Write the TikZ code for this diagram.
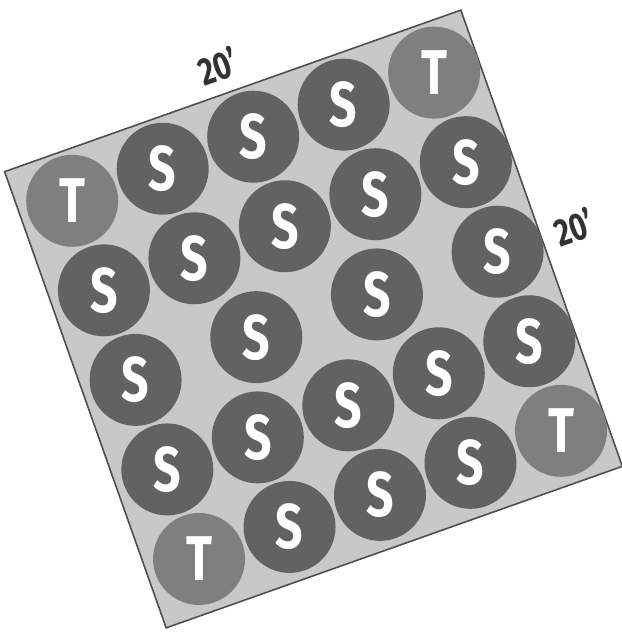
\documentclass[tikz,border=0pt]{standalone}
\usepackage{graphicx}
\usepackage{fontspec}
\setsansfont{Fira Sans}
\usetikzlibrary{calc}
\definecolor{plotfill}{RGB}{200,200,200}
\definecolor{plotedge}{RGB}{78,78,78}
\definecolor{shrubgray}{RGB}{98,98,98}
\definecolor{treegray}{RGB}{127,127,127}
\definecolor{dimgray}{RGB}{50,50,50}
\newcommand{\narrowtext}[1]{\scalebox{0.76}[1]{#1}}
\tikzset{
  shrub/.style={circle,fill=shrubgray,minimum size=1.84cm,inner sep=0pt,text=white,
    font=\sffamily\bfseries\fontsize{36}{36}\selectfont},
  tree/.style={shrub,fill=treegray},
  dimlabel/.style={text=dimgray,transform shape,inner sep=0pt,
    font=\sffamily\bfseries\fontsize{22}{22}\selectfont}
}

\begin{document}
\begin{tikzpicture}[x=0.02cm,y=-0.02cm]
\useasboundingbox (0,0) rectangle (622,633);
\begin{scope}[shift={(313.5,319)},rotate=19.5]
\draw[plotedge,fill=plotfill,line width=0.9pt] (-242,-242) rectangle (242,242);
% outer ring
\node[tree]  (t1) at (-188,-192) {\narrowtext{T}};
\node[shrub] (s1) at (-92,-192) {\narrowtext{S}};
\node[shrub] (s2) at (4,-192) {\narrowtext{S}};
\node[shrub] (s3) at (100,-192) {\narrowtext{S}};
\node[tree]  (t2) at (196,-192) {\narrowtext{T}};
\node[shrub] (s4) at (196,-97) {\narrowtext{S}};
\node[shrub] (s5) at (196,-2) {\narrowtext{S}};
\node[shrub] (s6) at (196,93) {\narrowtext{S}};
\node[tree]  (t3) at (196,188) {\narrowtext{T}};
\node[shrub] (s7) at (100,188) {\narrowtext{S}};
\node[shrub] (s8) at (4,188) {\narrowtext{S}};
\node[shrub] (s9) at (-92,188) {\narrowtext{S}};
\node[tree]  (t4) at (-188,188) {\narrowtext{T}};
\node[shrub] (s10) at (-188,93) {\narrowtext{S}};
\node[shrub] (s11) at (-188,-2) {\narrowtext{S}};
\node[shrub] (s12) at (-188,-97) {\narrowtext{S}};
% inner rows
\node[shrub] (s13) at (-92,-97) {\narrowtext{S}};
\node[shrub] (s14) at (4,-97) {\narrowtext{S}};
\node[shrub] (s15) at (100,-97) {\narrowtext{S}};
\node[shrub] (s16) at (-60,-2) {\narrowtext{S}};
\node[shrub] (s17) at (68,-2) {\narrowtext{S}};
\node[shrub] (s18) at (-92,93) {\narrowtext{S}};
\node[shrub] (s19) at (4,93) {\narrowtext{S}};
\node[shrub] (s20) at (100,93) {\narrowtext{S}};
% sides
\node[dimlabel] (wtop) at (-6,-270) {\narrowtext{20’}};
\node[dimlabel] (wright) at (276,0) {\narrowtext{20’}};
\end{scope}
\end{tikzpicture}
\end{document}
